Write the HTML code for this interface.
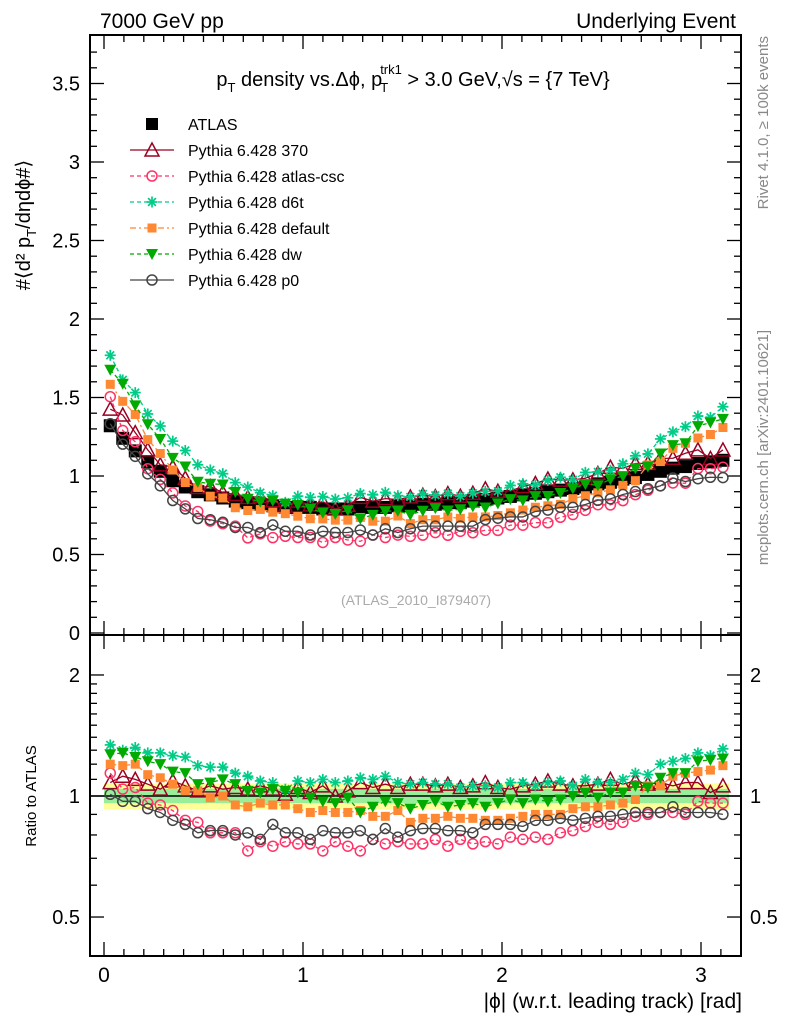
<!DOCTYPE html>
<html><head><meta charset="utf-8"><style>
body{margin:0;background:#fff;width:786px;height:1024px;overflow:hidden;font-family:"Liberation Sans",sans-serif}
svg text{font-family:"Liberation Sans","DejaVu Sans",sans-serif}
</style></head><body>
<svg id="chart" width="786" height="1024" viewBox="0 0 786 1024" xmlns="http://www.w3.org/2000/svg">
<text x="100" y="28" font-size="21">7000 GeV pp</text>
<text x="736" y="28" font-size="21" text-anchor="end">Underlying Event</text>
<text x="413" y="86" font-size="20" text-anchor="middle">p<tspan font-size="13" dy="6">T</tspan><tspan dy="-6"> density vs.Δϕ, p</tspan><tspan font-size="13" dy="6" dx="-2">T</tspan><tspan font-size="13" dy="-18" dx="-8">trk1</tspan><tspan dy="12"> &gt; 3.0 GeV,√s = {7 TeV}</tspan></text>
<text transform="translate(30,225) rotate(-90)" font-size="20" text-anchor="middle">#⟨d² p<tspan font-size="13" dy="6">T</tspan><tspan dy="-6">/dηdϕ#⟩</tspan></text>
<text transform="translate(36,796) rotate(-90)" font-size="15" text-anchor="middle">Ratio to ATLAS</text>
<text x="742" y="1008" font-size="21" text-anchor="end">|ϕ| (w.r.t. leading track) [rad]</text>
<text transform="translate(768,36) rotate(-90)" font-size="15" fill="#888" text-anchor="end">Rivet 4.1.0, ≥ 100k events</text>
<text transform="translate(768,330) rotate(-90)" font-size="15" fill="#888" text-anchor="end">mcplots.cern.ch [arXiv:2401.10621]</text>
<text x="416" y="605" font-size="14" fill="#aaa" text-anchor="middle">(ATLAS_2010_I879407)</text>
<g id="bands"></g><g id="axes"></g><g id="series"></g><g id="legend"></g>
</svg>
<script>
const categories=[];for(let i=0;i<50;i++)categories.push((i+0.5)*Math.PI/50);
const atlas=[1.32,1.24,1.16,1.09,1.03,0.97,0.93,0.90,0.88,0.86,0.84,0.83,0.82,0.81,0.80,0.80,0.80,0.79,0.79,0.79,0.80,0.80,0.80,0.81,0.81,0.82,0.82,0.83,0.83,0.84,0.85,0.86,0.87,0.88,0.89,0.90,0.91,0.92,0.93,0.95,0.96,0.98,0.99,1.01,1.03,1.05,1.06,1.08,1.09,1.10];
const r370=[1.08,1.12,1.10,1.07,1.04,1.09,1.06,1.03,1.06,1.04,1.05,1.04,1.06,1.04,1.01,1.05,1.02,1.06,1.00,1.03,1.08,1.05,1.07,1.05,1.07,1.07,1.06,1.07,1.05,1.06,1.08,1.05,1.04,1.06,1.07,1.09,1.07,1.06,1.06,1.07,1.10,1.07,1.09,1.07,1.08,1.06,1.08,1.08,1.02,1.06];
const rCsc=[1.14,1.04,1.05,0.96,0.95,0.92,0.87,0.86,0.81,0.81,0.81,0.73,0.77,0.75,0.77,0.76,0.76,0.73,0.77,0.75,0.73,0.78,0.76,0.77,0.76,0.76,0.78,0.75,0.78,0.76,0.77,0.76,0.79,0.78,0.79,0.78,0.81,0.82,0.84,0.86,0.85,0.86,0.89,0.90,0.91,0.91,0.90,0.97,0.96,0.96];
const rD6t=[1.34,1.30,1.32,1.28,1.28,1.26,1.25,1.19,1.18,1.18,1.14,1.12,1.09,1.08,1.04,1.09,1.08,1.10,1.08,1.09,1.11,1.10,1.12,1.08,1.07,1.08,1.07,1.07,1.05,1.06,1.06,1.05,1.08,1.08,1.06,1.08,1.09,1.06,1.10,1.08,1.08,1.10,1.14,1.13,1.20,1.22,1.24,1.28,1.26,1.31];
const rDefault=[1.20,1.19,1.20,1.13,1.11,1.07,1.03,1.03,0.99,1.00,0.95,0.94,0.96,0.95,0.95,0.93,0.91,0.92,0.91,0.91,0.92,0.89,0.89,0.92,0.86,0.88,0.88,0.89,0.88,0.88,0.87,0.87,0.88,0.89,0.90,0.90,0.90,0.93,0.94,0.94,0.95,0.96,0.98,1.06,1.06,1.12,1.14,1.15,1.16,1.19];
const rDw=[1.27,1.28,1.25,1.22,1.20,1.15,1.14,1.07,1.08,1.10,1.07,1.03,1.02,1.04,1.03,1.02,0.99,0.97,0.96,0.99,0.91,0.94,0.97,0.96,0.93,0.95,0.97,0.94,0.95,0.96,0.94,0.96,0.98,0.96,0.98,0.97,0.98,1.00,1.02,0.99,1.02,1.02,1.06,1.05,1.11,1.14,1.14,1.22,1.23,1.24];
const rP0=[1.01,0.97,0.97,0.93,0.91,0.87,0.85,0.81,0.82,0.82,0.80,0.81,0.78,0.85,0.81,0.81,0.78,0.82,0.81,0.81,0.82,0.78,0.83,0.79,0.82,0.83,0.83,0.82,0.82,0.81,0.85,0.85,0.85,0.84,0.87,0.87,0.88,0.87,0.88,0.89,0.89,0.90,0.91,0.91,0.91,0.94,0.91,0.91,0.91,0.90];
const mainTicks=["0","0.5","1","1.5","2","2.5","3","3.5"];
const xTicks=["0","1","2","3"];
const ratioTicks=["0.5","1","2"];
const legendNames=["ATLAS","Pythia 6.428 370","Pythia 6.428 atlas-csc","Pythia 6.428 d6t","Pythia 6.428 default","Pythia 6.428 dw","Pythia 6.428 p0"];

const NS="http://www.w3.org/2000/svg";
const L=90,R=741,T=35,MB=635,RB=956;
const X=v=>104+199*v, Y=v=>633-157*v, YR=v=>796-174.6*Math.log(v);
function mk(tag,at,parent){const e=document.createElementNS(NS,tag);for(const k in at)e.setAttribute(k,at[k]);parent.appendChild(e);return e;}
const axes=document.getElementById('axes'),ser=document.getElementById('series'),bands=document.getElementById('bands'),leg=document.getElementById('legend');

const x1=X(0),x2=X(Math.PI);
let yb=mk('rect',{x:x1,y:YR(1.075),width:x2-x1,height:YR(0.925)-YR(1.075),fill:'#ffff99'},bands);


let gb=mk('rect',{x:x1,y:YR(1.042),width:x2-x1,height:YR(0.96)-YR(1.042),fill:'#99ee99'},bands);


let ol=mk('line',{x1:L,x2:R,y1:YR(1),y2:YR(1),stroke:'#000','stroke-width':1.5},bands);



let f1=mk('rect',{x:L,y:T,width:R-L,height:MB-T,fill:'none',stroke:'#000','stroke-width':2},axes);


let f2=mk('rect',{x:L,y:MB,width:R-L,height:RB-MB,fill:'none',stroke:'#000','stroke-width':2},axes);


function tick(x1,y1,x2,y2){mk('line',{x1,y1,x2,y2,stroke:'#000','stroke-width':1.3},axes);}
for(let v=0;v<=3.8;v+=0.1){const y=Y(v);if(y<T+1)continue;const maj=Math.abs(v*2-Math.round(v*2))<1e-6;const l=maj?14:7;tick(L,y,L+l,y);tick(R,y,R-l,y);}
mainTicks.forEach(s=>{const t=mk('text',{x:80,y:Y(parseFloat(s))+7,'font-size':20,'text-anchor':'end'},axes);t.textContent=s;

});
for(let v=0;v<=3.15;v+=0.1){const x=X(v);if(x>R)break;const maj=Math.abs(v-Math.round(v))<1e-6;const l=maj?14:7;
tick(x,T,x,T+l);tick(x,MB,x,MB-l);tick(x,MB,x,MB+l);tick(x,RB,x,RB-l);}
xTicks.forEach(s=>{const t=mk('text',{x:X(parseFloat(s)),y:982,'font-size':21,'text-anchor':'middle'},axes);t.textContent=s;

});
const rv=[0.5,0.6,0.7,0.8,0.9,1,1.1,1.2,1.3,1.4,1.5,1.6,1.7,1.8,1.9,2];
rv.forEach(v=>{const y=YR(v);const maj=(v==0.5||v==1||v==2);const l=maj?14:7;tick(L,y,L+l,y);tick(R,y,R-l,y);});
ratioTicks.forEach(s=>{const y=YR(parseFloat(s))+7;
const t=mk('text',{x:80,y,'font-size':20,'text-anchor':'end'},axes);t.textContent=s;


const t2=mk('text',{x:750,y,'font-size':20,'fill':'#000'},axes);t2.textContent=s;

});

function marker(g,type,x,y,c,s){
 s=s||6;
 if(type=='sq')mk('rect',{x:x-s,y:y-s,width:2*s,height:2*s,fill:c},g);
 else if(type=='sqs')mk('rect',{x:x-4.5,y:y-4.5,width:9,height:9,fill:c},g);
 else if(type=='tu')mk('polygon',{points:`${x},${y-7} ${x-7},${y+6} ${x+7},${y+6}`,fill:'#fff','fill-opacity':0,stroke:c,'stroke-width':1.5},g);
 else if(type=='td')mk('polygon',{points:`${x-6},${y-5} ${x+6},${y-5} ${x},${y+6}`,fill:c},g);
 else if(type=='ci')mk('circle',{cx:x,cy:y,r:5,fill:'none',stroke:c,'stroke-width':1.5},g);
 else if(type=='st'){for(let a=0;a<4;a++){const an=a*Math.PI/4;mk('line',{x1:x-5.5*Math.cos(an),y1:y-5.5*Math.sin(an),x2:x+5.5*Math.cos(an),y2:y+5.5*Math.sin(an),stroke:c,'stroke-width':1.7},g);}}
}
const models=[
 {name:'pythia-370',r:r370,c:'#990022',m:'tu',d:''},
 {name:'pythia-atlas-csc',r:rCsc,c:'#ff3366',m:'ci',d:'4,3'},
 {name:'pythia-d6t',r:rD6t,c:'#00cc88',m:'st',d:'4,3'},
 {name:'pythia-default',r:rDefault,c:'#ff8833',m:'sqs',d:'6,3,2,3'},
 {name:'pythia-dw',r:rDw,c:'#00aa00',m:'td',d:'4,3'},
 {name:'pythia-p0',r:rP0,c:'#444444',m:'ci',d:''}];
const ga=mk('g',{},ser);


categories.forEach((v,i)=>marker(ga,'sq',X(v),Y(atlas[i]),'#000',6.5));
models.forEach(md=>{
 const g=mk('g',{},ser);
 
 
 const pts=categories.map((v,i)=>X(v)+','+Y(atlas[i]*md.r[i])).join(' ');
 mk('polyline',{points:pts,fill:'none',stroke:md.c,'stroke-width':1.3,'stroke-dasharray':md.d},g);
 categories.forEach((v,i)=>marker(g,md.m,X(v),Y(atlas[i]*md.r[i]),md.c));
 const gr=mk('g',{},ser);
 
 
 const pr=categories.map((v,i)=>X(v)+','+YR(md.r[i])).join(' ');
 mk('polyline',{points:pr,fill:'none',stroke:md.c,'stroke-width':1.3,'stroke-dasharray':md.d},gr);
 categories.forEach((v,i)=>marker(gr,md.m,X(v),YR(md.r[i]),md.c));
});
legendNames.forEach((n,i)=>{
 const y=124+26*i;
 const g=mk('g',{},leg);
 
 
 if(i==0)marker(g,'sq',152,y,'#000',6);
 else{const md=models[i-1];mk('line',{x1:130,x2:174,y1:y,y2:y,stroke:md.c,'stroke-width':1.3,'stroke-dasharray':md.d},g);marker(g,md.m,152,y,md.c);}
 const t=mk('text',{x:188,y:y+6,'font-size':16},g);t.textContent=n;
});
</script>
</body></html>
